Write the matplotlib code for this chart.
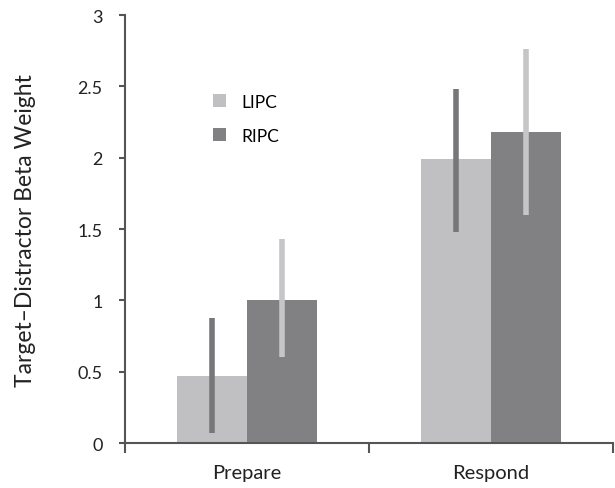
import matplotlib.pyplot as plt
import numpy as np

plt.rcParams['font.family'] = ['Lato', 'DejaVu Sans']

groups = ['Prepare', 'Respond']
series = ['LIPC', 'RIPC']
means = {'LIPC': [0.47, 1.99], 'RIPC': [1.00, 2.18]}
low = {'LIPC': [0.07, 1.48], 'RIPC': [0.60, 1.60]}
high = {'LIPC': [0.88, 2.48], 'RIPC': [1.43, 2.76]}

bar_col = {'LIPC': '#c0c0c2', 'RIPC': '#818184'}
err_col = {'LIPC': '#77777a', 'RIPC': '#c6c6c8'}

fig = plt.figure(figsize=(6.15, 4.89), dpi=100)
ax = fig.add_axes([0.2033, 0.092, 0.793, 0.875])

x = np.arange(len(groups)) + 0.5
w = 0.286
for k, s in enumerate(series):
    xs = x + (k - 0.5) * w
    ax.bar(xs, means[s], width=w, color=bar_col[s], label=s, zorder=2)
    ax.vlines(xs, low[s], high[s], colors=err_col[s], linewidth=4, zorder=3)

ax.set_xlim(0, 1.995)
ax.set_ylim(0, 3)
ax.set_yticks([0, 0.5, 1, 1.5, 2, 2.5, 3])
ax.set_yticklabels(['0', '0.5', '1', '1.5', '2', '2.5', '3'])
ax.set_xticks([0, 1, 2])
ax.set_xticklabels([])
ax.set_xticks(x, minor=True)
ax.set_xticklabels(groups, minor=True)
ax.tick_params(axis='x', which='major', length=7, width=1.5, color='#555555', direction='out')
ax.tick_params(axis='x', which='minor', length=0, pad=15, labelsize=14.5, labelcolor='#222222')
ax.tick_params(axis='y', length=4, width=1.5, color='#555555', labelsize=13, pad=12, labelcolor='#222222')

for side in ['top', 'right']:
    ax.spines[side].set_visible(False)
for side in ['left', 'bottom']:
    ax.spines[side].set_color('#555555')
    ax.spines[side].set_linewidth(1.5)

ax.set_ylabel('Target\u2013Distractor Beta Weight', fontsize=16.5, color='#222222', labelpad=30)

ax.legend(loc='upper left', bbox_to_anchor=(0.148, 0.853), frameon=False, fontsize=12.5,
          handlelength=0.75, handleheight=0.75, labelspacing=1.05, handletextpad=0.9)

fig.savefig('out.png', dpi=100)
